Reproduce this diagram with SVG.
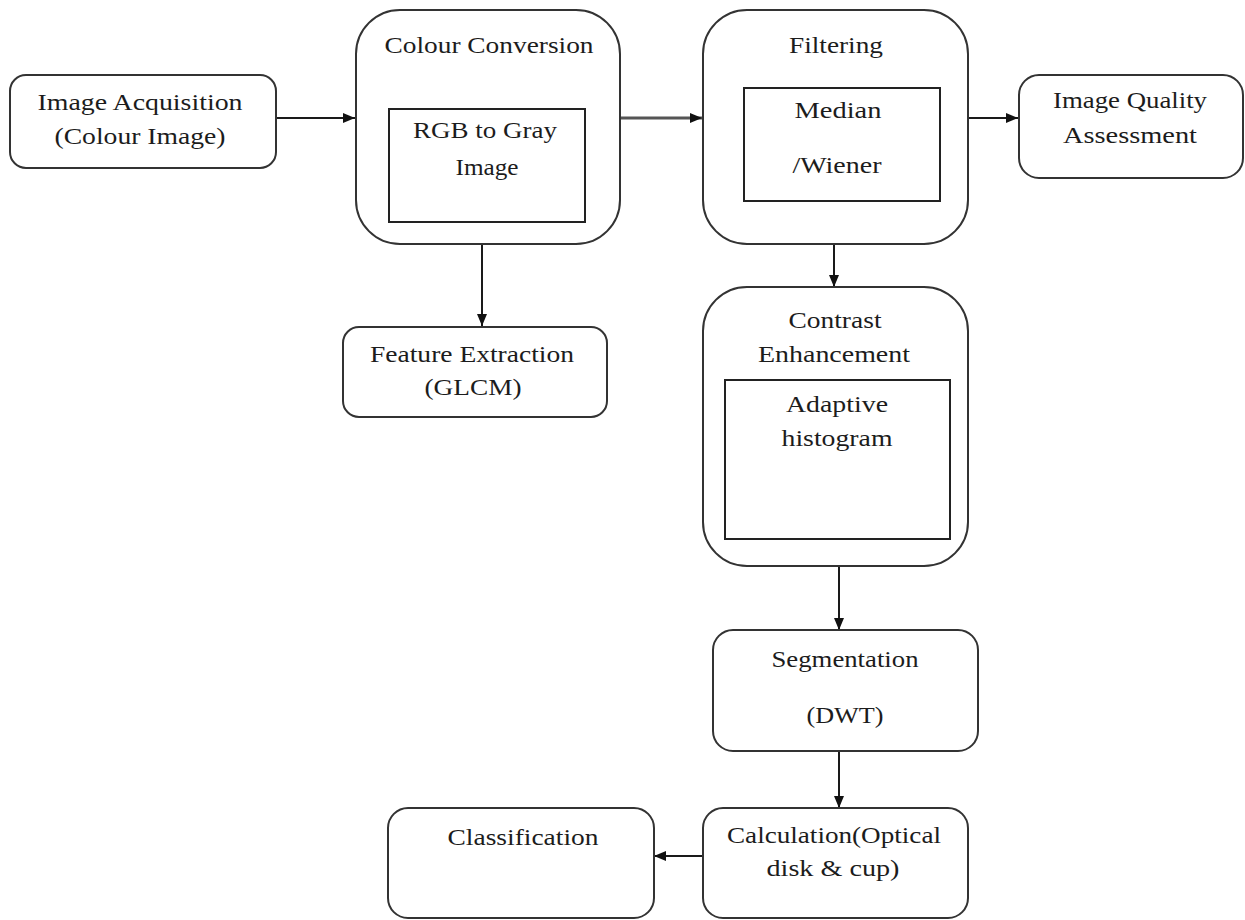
<svg xmlns="http://www.w3.org/2000/svg" width="1245" height="920" viewBox="0 0 1245 920">
<defs>
<marker id="ah" markerWidth="12" markerHeight="10" refX="12" refY="5" orient="auto" markerUnits="userSpaceOnUse">
<path d="M0,0 L12,5 L0,10 Z" fill="#111"/>
</marker>
<style>
.box{fill:#fff;stroke:#333;stroke-width:2}
.inner{fill:#fff;stroke:#222;stroke-width:2}
.t{font-family:"Liberation Serif","Times New Roman",serif;font-size:24px;fill:#1c1c1c;text-anchor:middle}
.c{fill:none;stroke:#1a1a1a;stroke-width:2}
</style>
</defs>
<rect width="1245" height="920" fill="#fff"/>
<g id="connectors">
<line class="c" x1="276" y1="118" x2="355" y2="118" marker-end="url(#ah)"/>
<line class="c" x1="620" y1="118" x2="702" y2="118" marker-end="url(#ah)" style="stroke:#555;stroke-width:3"/>
<line class="c" x1="968" y1="118" x2="1018" y2="118" marker-end="url(#ah)"/>
<line class="c" x1="482" y1="244" x2="482" y2="326" marker-end="url(#ah)"/>
<line class="c" x1="834" y1="244" x2="834" y2="287" marker-end="url(#ah)"/>
<line class="c" x1="839" y1="566" x2="839" y2="630" marker-end="url(#ah)"/>
<line class="c" x1="839" y1="751" x2="839" y2="808" marker-end="url(#ah)"/>
<line class="c" x1="703" y1="856" x2="654" y2="856" marker-end="url(#ah)"/>
</g>
<g id="image-acquisition">
<rect class="box" x="10" y="75" width="266" height="93" rx="16"/>
<text class="t" x="140" y="110" textLength="205" lengthAdjust="spacingAndGlyphs">Image Acquisition</text>
<text class="t" x="140" y="144" textLength="171" lengthAdjust="spacingAndGlyphs">(Colour Image)</text>
</g>
<g id="colour-conversion">
<rect class="box" x="356" y="10" width="264" height="234" rx="44"/>
<text class="t" x="489" y="53" textLength="209" lengthAdjust="spacingAndGlyphs">Colour Conversion</text>
<rect class="inner" x="389" y="109" width="196" height="113"/>
<text class="t" x="485" y="138" textLength="144" lengthAdjust="spacingAndGlyphs">RGB to Gray</text>
<text class="t" x="487" y="175" textLength="63" lengthAdjust="spacingAndGlyphs">Image</text>
</g>
<g id="filtering">
<rect class="box" x="703" y="10" width="265" height="234" rx="44"/>
<text class="t" x="836" y="53" textLength="94" lengthAdjust="spacingAndGlyphs">Filtering</text>
<rect class="inner" x="744" y="88" width="196" height="113"/>
<text class="t" x="838" y="118" textLength="87" lengthAdjust="spacingAndGlyphs">Median</text>
<text class="t" x="837" y="173" textLength="89" lengthAdjust="spacingAndGlyphs">/Wiener</text>
</g>
<g id="image-quality-assessment">
<rect class="box" x="1019" y="75" width="224" height="103" rx="20"/>
<text class="t" x="1130" y="108" textLength="154" lengthAdjust="spacingAndGlyphs">Image Quality</text>
<text class="t" x="1130" y="143" textLength="134" lengthAdjust="spacingAndGlyphs">Assessment</text>
</g>
<g id="feature-extraction">
<rect class="box" x="343" y="327" width="264" height="90" rx="16"/>
<text class="t" x="472" y="362" textLength="204" lengthAdjust="spacingAndGlyphs">Feature Extraction</text>
<text class="t" x="473" y="395" textLength="97" lengthAdjust="spacingAndGlyphs">(GLCM)</text>
</g>
<g id="contrast-enhancement">
<rect class="box" x="703" y="287" width="265" height="279" rx="44"/>
<text class="t" x="835" y="328" textLength="93" lengthAdjust="spacingAndGlyphs">Contrast</text>
<text class="t" x="834" y="362" textLength="152" lengthAdjust="spacingAndGlyphs">Enhancement</text>
<rect class="inner" x="725" y="380" width="225" height="159"/>
<text class="t" x="837" y="412" textLength="102" lengthAdjust="spacingAndGlyphs">Adaptive</text>
<text class="t" x="837" y="446" textLength="111" lengthAdjust="spacingAndGlyphs">histogram</text>
</g>
<g id="segmentation">
<rect class="box" x="713" y="630" width="265" height="121" rx="20"/>
<text class="t" x="845" y="667" textLength="147" lengthAdjust="spacingAndGlyphs">Segmentation</text>
<text class="t" x="845" y="723" textLength="77" lengthAdjust="spacingAndGlyphs">(DWT)</text>
</g>
<g id="calculation">
<rect class="box" x="703" y="808" width="265" height="110" rx="20"/>
<text class="t" x="834" y="843" textLength="214" lengthAdjust="spacingAndGlyphs">Calculation(Optical</text>
<text class="t" x="833" y="876" textLength="133" lengthAdjust="spacingAndGlyphs">disk &amp; cup)</text>
</g>
<g id="classification">
<rect class="box" x="388" y="808" width="266" height="110" rx="20"/>
<text class="t" x="523" y="845" textLength="151" lengthAdjust="spacingAndGlyphs">Classification</text>
</g>
</svg>
